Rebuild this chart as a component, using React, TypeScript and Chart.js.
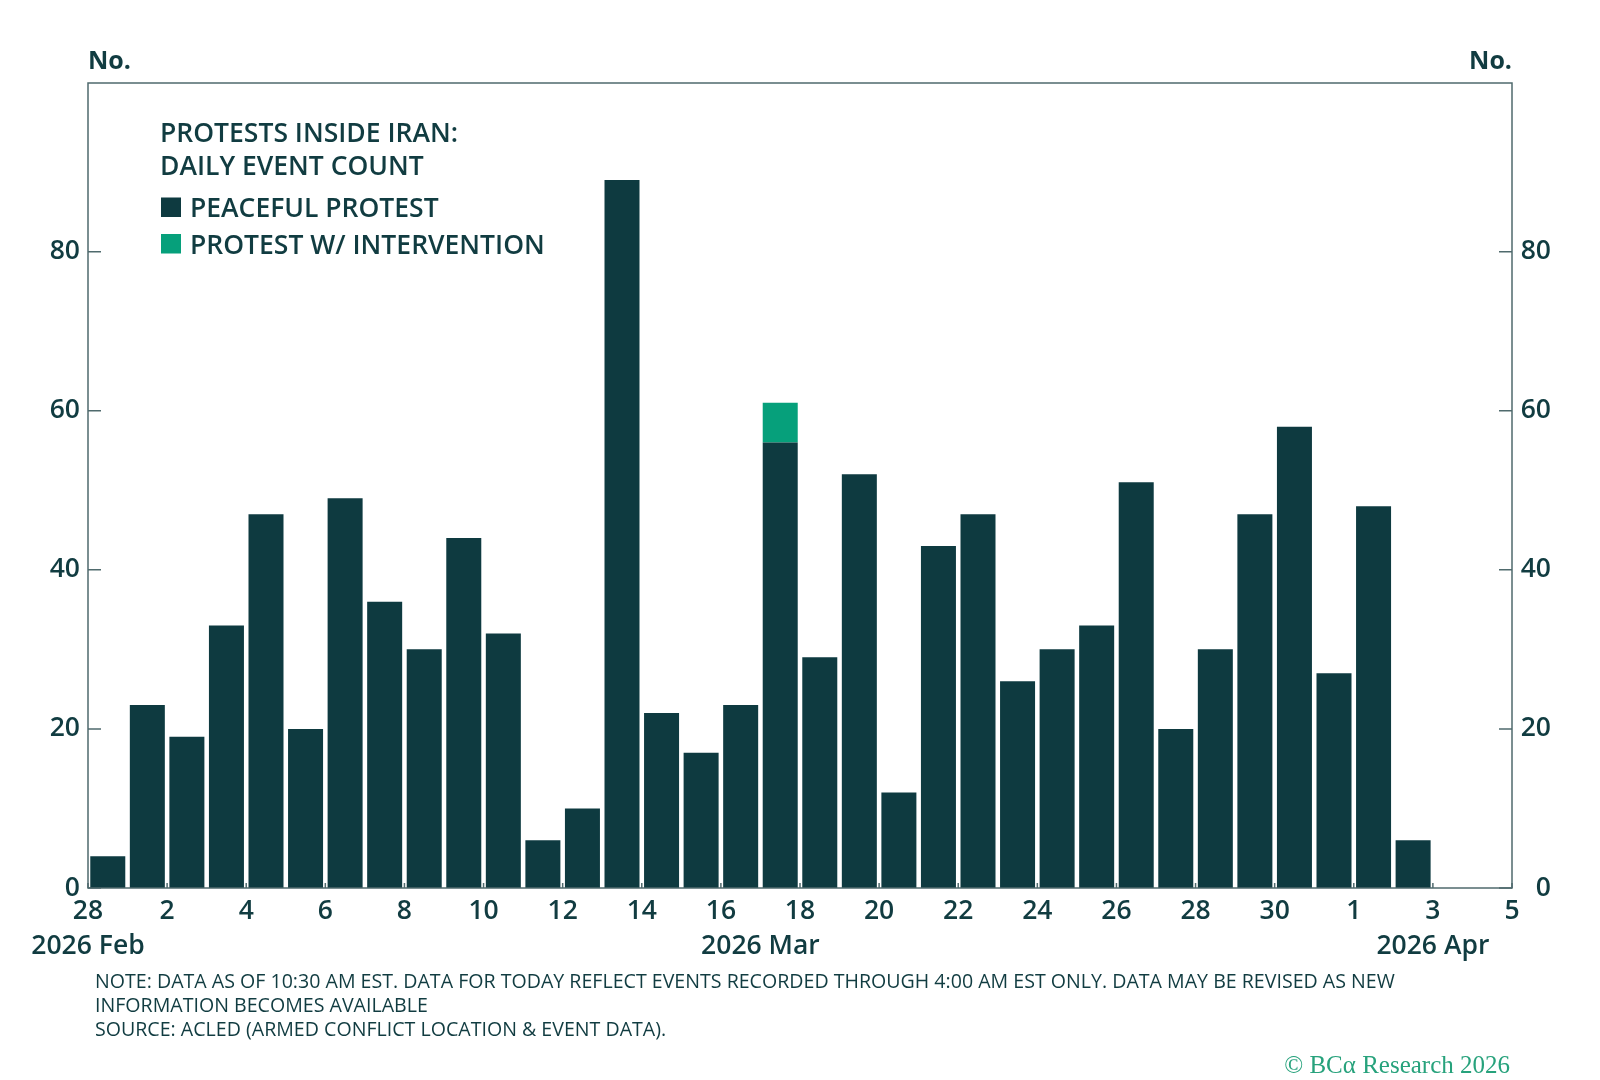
import React, { useEffect, useRef } from 'react';
import { Chart, registerables } from 'chart.js';

Chart.register(...registerables);

// ---------- data ----------
const categories = [
  'Feb 28', 'Mar 1', 'Mar 2', 'Mar 3', 'Mar 4', 'Mar 5', 'Mar 6', 'Mar 7', 'Mar 8', 'Mar 9',
  'Mar 10', 'Mar 11', 'Mar 12', 'Mar 13', 'Mar 14', 'Mar 15', 'Mar 16', 'Mar 17', 'Mar 18', 'Mar 19',
  'Mar 20', 'Mar 21', 'Mar 22', 'Mar 23', 'Mar 24', 'Mar 25', 'Mar 26', 'Mar 27', 'Mar 28', 'Mar 29',
  'Mar 30', 'Mar 31', 'Apr 1', 'Apr 2',
];
const peaceful = [
  4, 23, 19, 33, 47, 20, 49, 36, 30, 44,
  32, 6, 10, 89, 22, 17, 23, 56, 29, 52,
  12, 43, 47, 26, 30, 33, 51, 20, 30, 47,
  58, 27, 48, 6,
];
const intervention = [
  0, 0, 0, 0, 0, 0, 0, 0, 0, 0,
  0, 0, 0, 0, 0, 0, 0, 5, 0, 0,
  0, 0, 0, 0, 0, 0, 0, 0, 0, 0,
  0, 0, 0, 0,
];
const xTickLabels = ['28', '2', '4', '6', '8', '10', '12', '14', '16', '18', '20', '22', '24', '26', '28', '30', '1', '3', '5'];
const monthLabels = ['2026 Feb', '2026 Mar', '2026 Apr'];
const monthLabelDays = [0, 17, 34];
const yTicks = [0, 20, 40, 60, 80];
const legendTitle = ['PROTESTS INSIDE IRAN:', 'DAILY EVENT COUNT'];
const seriesNames = ['PEACEFUL PROTEST', 'PROTEST W/ INTERVENTION'];
const noteLines = [
  'NOTE: DATA AS OF 10:30 AM EST. DATA FOR TODAY REFLECT EVENTS RECORDED THROUGH 4:00 AM EST ONLY. DATA MAY BE REVISED AS NEW',
  'INFORMATION BECOMES AVAILABLE',
  'SOURCE: ACLED (ARMED CONFLICT LOCATION & EVENT DATA).',
];
const copyright = '© BCα Research 2026';

// ---------- style ----------
const DARK = '#0e3a40';
const GREEN = '#06a07b';
const TEXT = '#113c41';
const FRAME = '#4f6a6d';
const FONT = "'Open Sans', sans-serif";
const Y_MAX = 101.2;
const X_DAYS = 36;
const FS = 26.5;

const decorPlugin = {
  id: 'decor',
  beforeDatasetsDraw(chart: any) {
    const { ctx, chartArea: a, scales } = chart;
    ctx.save();
    ctx.strokeStyle = FRAME;
    ctx.lineWidth = 1.5;
    ctx.beginPath();
    scales.x.ticks.forEach((t: any) => {
      const px = scales.x.getPixelForValue(t.value);
      ctx.moveTo(px, a.bottom);
      ctx.lineTo(px, a.bottom - 5);
    });
    yTicks.forEach((v) => {
      const py = scales.y.getPixelForValue(v);
      ctx.moveTo(a.left, py);
      ctx.lineTo(a.left + 13, py);
      ctx.moveTo(a.right, py);
      ctx.lineTo(a.right - 13, py);
    });
    ctx.stroke();
    ctx.restore();
  },
  afterDatasetsDraw(chart: any) {
    const { ctx, chartArea: a } = chart;
    ctx.save();
    ctx.strokeStyle = FRAME;
    ctx.lineWidth = 1.5;
    ctx.strokeRect(a.left, a.top, a.right - a.left, a.bottom - a.top);
    ctx.restore();
  },
  afterDraw(chart: any) {
    const { ctx, chartArea: a, scales } = chart;
    ctx.save();
    ctx.fillStyle = TEXT;
    ctx.textBaseline = 'alphabetic';
    // axis unit labels
    ctx.font = `700 25px ${FONT}`;
    ctx.textAlign = 'left';
    ctx.fillText('No.', a.left, a.top - 14);
    ctx.textAlign = 'right';
    ctx.fillText('No.', a.right, a.top - 14);
    // month labels
    ctx.font = `600 ${FS}px ${FONT}`;
    ctx.textAlign = 'center';
    monthLabels.forEach((m, i) => {
      ctx.fillText(m, scales.x.getPixelForValue(monthLabelDays[i]), a.bottom + 66);
    });
    // legend
    ctx.textAlign = 'left';
    ctx.font = `600 ${FS}px ${FONT}`;
    const lx = a.left + 72;
    ctx.fillText(legendTitle[0], lx, a.top + 59);
    ctx.fillText(legendTitle[1], lx, a.top + 92);
    const colors = [DARK, GREEN];
    seriesNames.forEach((n, i) => {
      const base = a.top + 134 + i * 36.5;
      ctx.fillStyle = colors[i];
      ctx.fillRect(lx + 1, base - 19.5, 20, 19.5);
      ctx.fillStyle = TEXT;
      ctx.fillText(n, lx + 30, base);
    });
    ctx.restore();
  },
};

export default function App() {
  const ref = useRef<HTMLCanvasElement>(null);
  useEffect(() => {
    const tickFont = { family: FONT, size: FS, weight: '600' as any };
    const chart = new Chart(ref.current as HTMLCanvasElement, {
      type: 'bar',
      data: {
        labels: categories,
        datasets: [
          {
            label: seriesNames[0],
            data: peaceful.map((v, i) => ({ x: i + 0.5, y: v })),
            backgroundColor: DARK,
            borderWidth: 0,
            barPercentage: 0.885,
            categoryPercentage: 1,
            stack: 's',
            yAxisID: 'y',
          },
          {
            label: seriesNames[1],
            data: intervention.map((v, i) => ({ x: i + 0.5, y: v })),
            backgroundColor: GREEN,
            borderWidth: 0,
            barPercentage: 0.885,
            categoryPercentage: 1,
            stack: 's',
            yAxisID: 'y',
          },
        ],
      },
      options: {
        responsive: false,
        animation: false,
        devicePixelRatio: 1,
        layout: { padding: { top: 83, left: 0, right: 49, bottom: 0 } },
        plugins: { legend: { display: false }, tooltip: { enabled: false } },
        scales: {
          x: {
            type: 'linear',
            min: 0,
            max: X_DAYS,
            offset: false,
            stacked: true,
            grid: { display: false, drawTicks: false, offset: false },
            border: { display: false },
            ticks: {
              stepSize: 2,
              autoSkip: false,
              maxRotation: 0,
              padding: 8,
              color: TEXT,
              font: tickFont,
              callback: (v: any) => xTickLabels[Math.round(Number(v) / 2)],
            },
            afterFit: (s: any) => { s.height = 192; },
          },
          y: {
            position: 'left',
            min: 0,
            max: Y_MAX,
            stacked: true,
            grid: { display: false, drawTicks: false },
            border: { display: false },
            ticks: { padding: 8, color: TEXT, font: tickFont },
            afterBuildTicks: (s: any) => { s.ticks = yTicks.map((v) => ({ value: v })); },
            afterFit: (s: any) => { s.width = 88; },
          },
          y2: {
            position: 'right',
            min: 0,
            max: Y_MAX,
            grid: { display: false, drawTicks: false },
            border: { display: false },
            ticks: { padding: 10, crossAlign: 'far', color: TEXT, font: tickFont },
            afterBuildTicks: (s: any) => { s.ticks = yTicks.map((v) => ({ value: v })); },
            afterFit: (s: any) => { s.width = 39; },
          },
        },
      } as any,
      plugins: [decorPlugin],
    });
    return () => chart.destroy();
  }, []);

  return (
    <div style={{ position: 'absolute', left: 0, top: 0, width: 1600, height: 1080, background: '#fff', overflow: 'hidden' }}>
      <canvas ref={ref} width={1600} height={1080} style={{ position: 'absolute', left: 0, top: 0, width: 1600, height: 1080 }} />
      <div
        style={{
          position: 'absolute',
          left: 95,
          top: 969,
          fontFamily: FONT,
          fontSize: 19.6,
          fontWeight: 400,
          lineHeight: '24px',
          color: TEXT,
          whiteSpace: 'pre',
        }}
      >
        {noteLines.join('\n')}
      </div>
      <div
        style={{
          position: 'absolute',
          right: 90,
          top: 1051,
          fontFamily: "'Liberation Serif', serif",
          fontSize: 25,
          lineHeight: '28px',
          color: '#27a27c',
          whiteSpace: 'nowrap',
        }}
      >
        {copyright}
      </div>
    </div>
  );
}
